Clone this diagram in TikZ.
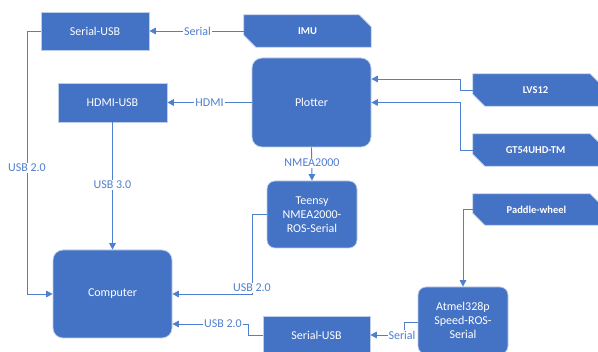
\documentclass[tikz,border=0pt]{standalone}
\usepackage{fontspec}
\setmainfont{Carlito}
\usetikzlibrary{arrows.meta,calc}
\definecolor{ob}{HTML}{4472C4}
\definecolor{ln}{HTML}{4F7FCF}
\tikzset{
  box/.style={fill=ob,draw=white!65!ob,line width=0.7pt,text=white,font=\fontsize{12}{14}\selectfont,align=center,inner sep=0pt},
  rbox/.style={box,rounded corners=10pt},
  snipnode/.style={inner sep=0pt,text=white,font=\fontsize{10.5}{12}\selectfont\bfseries},
  snipfill/.style={fill=ob,draw=white!65!ob,line width=0.7pt},
  conn/.style={draw=ln,line width=0.9pt,-{Triangle[length=6.5pt,width=6.5pt]}},
  plain/.style={draw=ln,line width=0.9pt},
  lbl/.style={fill=white,text=ln,inner sep=1pt,font=\fontsize{12}{14}\selectfont}
}
\newcommand{\snipshape}[4]{% name, center, width, height
  \node[snipnode,minimum width=#3,minimum height=#4] (#1) at #2 {};
  \fill[snipfill] (#1.north west) -- ($(#1.north east)+(-12pt,0)$) -- ($(#1.north east)+(0,-12pt)$)
     -- (#1.south east) -- ($(#1.south west)+(12pt,0)$) -- ($(#1.south west)+(0,12pt)$) -- cycle;
}
\begin{document}
\begin{tikzpicture}[x=1pt,y=-1pt]
\useasboundingbox (0,0) rectangle (598,352);
% boxes
\node[box,minimum width=108pt,minimum height=38pt] (su1) at (95,31) {Serial-USB};
\node[box,minimum width=109pt,minimum height=39pt] (hdmi) at (112.5,102.5) {HDMI-USB};
\node[rbox,minimum width=119pt,minimum height=89pt] (plotter) at (311.5,102.5) {Plotter};
\node[rbox,rounded corners=8pt,minimum width=90pt,minimum height=67pt] (teensy) at (312,214.5) {Teensy\\NMEA2000-\\ROS-Serial};
\node[rbox,minimum width=119pt,minimum height=88pt] (computer) at (112.5,294) {Computer};
\node[rbox,rounded corners=8pt,minimum width=90pt,minimum height=67pt] (atmel) at (463,320.5) {Atmel328p\\Speed-ROS-\\Serial};
\node[box,minimum width=107pt,minimum height=38pt] (su2) at (316.5,335) {Serial-USB};
% snipped shapes
\snipshape{imu}{(307.5,31)}{127pt}{32pt}
\node[snipnode] at (imu) {IMU};
\snipshape{lvs}{(537.5,90)}{129pt}{32pt}
\node[snipnode] at ([xshift=-2pt]lvs.center) {LVS12};
\snipshape{gt}{(537.5,150)}{129pt}{32pt}
\node[snipnode] at ([xshift=-2pt]gt.center) {GT54UHD-TM};
\snipshape{paddle}{(537.5,209.5)}{129pt}{31pt}
\node[snipnode] at ([xshift=-1pt]paddle.center) {Paddle-wheel};
% connectors
\draw[conn] (imu.west) -- node[lbl,pos=0.49] {Serial} (su1.east);
\draw[conn] (plotter.west) -- node[lbl,pos=0.5] {HDMI} (hdmi.east);
\draw[conn] (su1.west) -- (27,31) |- (computer.west);
\node[lbl] at (27,168) {USB 2.0};
\draw[conn] (hdmi.south) -- (computer.north);
\node[lbl] at (112.5,185) {USB 3.0};
\draw[conn] (plotter.south) -- (teensy.north);
\node[lbl] at (312,163) {NMEA2000};
\draw[conn] (lvs.west) -- (460,90) |- (plotter.east |- 0,79);
\draw[conn] (gt.west) -- (460,150) |- (plotter.east);
\draw[conn] (teensy.west) -- (252,214.5) |- (computer.east);
\node[lbl] at (252,288) {USB 2.0};
\draw[conn] (su2.west) -- (248,335) |- (computer.east |- 0,324);
\node[lbl] at (223,324) {USB 2.0};
\draw[conn] (atmel.west |- 0,322) -- (404,322) |- (su2.east);
\node[lbl] at (402,335) {Serial};
\draw[conn] (paddle.west) -| (atmel.north);
\end{tikzpicture}
\end{document}
